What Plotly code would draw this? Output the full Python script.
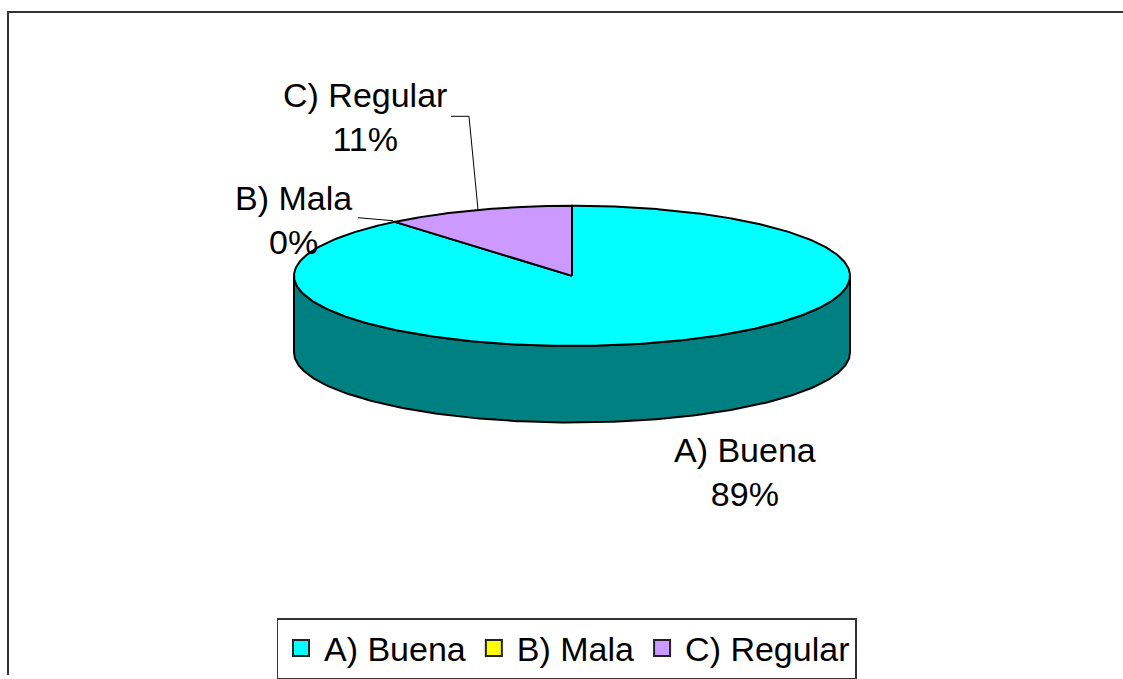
import numpy as np
import plotly.graph_objects as go

# ---- data ----
categories = ["A) Buena", "B) Mala", "C) Regular"]
values = [89, 0, 11]
top_colors = ["#00FFFF", "#FFFF00", "#CC99FF"]
side_colors = ["#008080", "#808000", "#6650A0"]

# ---- layout constants (pixel space) ----
W, H = 1123, 679
CX, CY = 572, 277.5      # centre of top face
RA, RB = 278, 70.5       # ellipse radii
DEPTH = 77
FONT = "Arial, Liberation Sans, sans-serif"
FS = 34

def pt(theta_deg, dy=0.0):
    t = np.radians(theta_deg)
    return CX + RA * np.sin(t), CY - RB * np.cos(t) + dy

total = float(sum(values))
bounds = np.concatenate([[0], np.cumsum(values)]) / total * 360.0

fig = go.Figure()

# side wall: visible front part (90..270 deg) of each slice
for i, cat in enumerate(categories):
    s, e = bounds[i], bounds[i + 1]
    lo, hi = max(s, 90), min(e, 270)
    if hi <= lo:
        continue
    th = np.linspace(lo, hi, 200)
    xt, yt = pt(th)
    xb, yb = pt(th[::-1], DEPTH)
    xs = np.concatenate([xt, xb, xt[:1]])
    ys = np.concatenate([yt, yb, yt[:1]])
    fig.add_trace(go.Scatter(x=xs, y=ys, mode="lines", fill="toself",
                             fillcolor=side_colors[i],
                             line=dict(color="black", width=2),
                             hoverinfo="skip", showlegend=False))

# top faces
for i, cat in enumerate(categories):
    s, e = bounds[i], bounds[i + 1]
    if e - s <= 0:
        continue
    th = np.linspace(s, e, 400)
    x, y = pt(th)
    xs = np.concatenate([[CX], x, [CX]])
    ys = np.concatenate([[CY], y, [CY]])
    fig.add_trace(go.Scatter(x=xs, y=ys, mode="lines", fill="toself",
                             fillcolor=top_colors[i],
                             line=dict(color="black", width=2),
                             hoverinfo="skip", showlegend=False))

# legend entries
for i, cat in enumerate(categories):
    fig.add_trace(go.Scatter(x=[None], y=[None], mode="markers", name=cat,
                             marker=dict(symbol="square", size=18, color=top_colors[i],
                                         line=dict(color="#222222", width=2))))

# labels
pct = [f"{round(v / total * 100):.0f}%" for v in values]
label_pos = [(745, 475), (293, 221), (365, 118)]
for i, cat in enumerate(categories):
    fig.add_annotation(x=label_pos[i][0], y=label_pos[i][1], text=f"{cat}<br>{pct[i]}",
                       showarrow=False, font=dict(family=FONT, size=FS, color="black"),
                       xanchor="center", yanchor="middle")

# leader lines
fig.add_shape(type="path", path="M 451 117 L 469 117 L 478 211",
              line=dict(color="black", width=1), xref="x", yref="y")
fig.add_shape(type="path", path="M 358 219 L 393 222",
              line=dict(color="black", width=1), xref="x", yref="y")

# chart frame
fig.add_shape(type="rect", x0=8, y0=12, x1=W + 20, y1=H + 20,
              line=dict(color="#333333", width=2), xref="x", yref="y", layer="below")

fig.update_xaxes(range=[0, W], visible=False, fixedrange=True)
fig.update_yaxes(range=[H, 0], visible=False, fixedrange=True)

fig.update_layout(
    width=W, height=H,
    margin=dict(l=0, r=0, t=0, b=0),
    paper_bgcolor="white", plot_bgcolor="white",
    font=dict(family=FONT, size=FS, color="black"),
    showlegend=True,
    legend=dict(orientation="h", x=0.5 + 5 / W, xanchor="center", y=1 - 622 / H, yanchor="top",
                bordercolor="#333333", borderwidth=1.5, bgcolor="white",
                font=dict(family=FONT, size=FS), itemsizing="trace",
                itemwidth=36, tracegroupgap=0),
)

fig.write_html("out.html", post_script="document.body.style.margin='0';",
               config={"displayModeBar": False, "staticPlot": True})
